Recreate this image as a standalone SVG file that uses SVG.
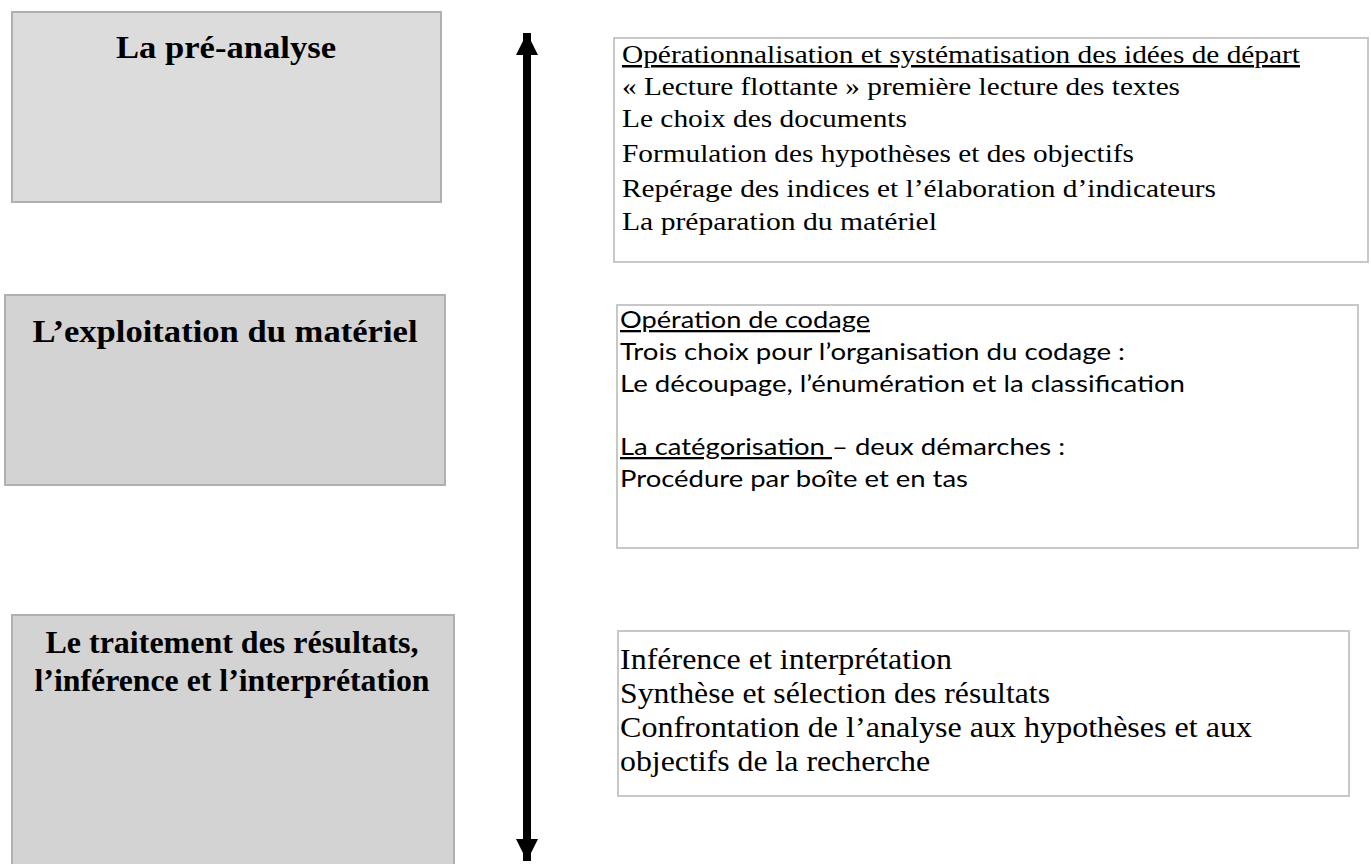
<svg xmlns="http://www.w3.org/2000/svg" width="1371" height="864" viewBox="0 0 1371 864">
<style>
.phase{stroke:#b0b0b0;stroke-width:2}
.desc{fill:#ffffff;stroke:#c8c8c8;stroke-width:2}
.ttl{font-family:"Liberation Serif","Times New Roman",serif;font-weight:bold;font-size:32px;fill:#000;text-anchor:middle}
.ser{font-family:"Liberation Serif","Times New Roman",serif;font-size:25px;fill:#000}
.ser3{font-family:"Liberation Serif","Times New Roman",serif;font-size:30px;fill:#000}
.sans{font-family:Lato,"Open Sans","Liberation Sans",sans-serif;font-size:23px;fill:#000}
.u{text-decoration:underline}
</style>
<defs>
<marker id="ah" viewBox="0 0 10 10" refX="10" refY="5" markerWidth="2.8" markerHeight="2.8" orient="auto-start-reverse">
<path d="M0,0 L10,5 L0,10 z" fill="#000"/>
</marker>
</defs>
<rect width="1371" height="864" fill="#ffffff"/>

<g id="phase1">
<rect class="phase" x="12" y="12" width="429" height="190" fill="#dcdcdc"/>
<text class="ttl" x="226" y="58" textLength="220" lengthAdjust="spacingAndGlyphs">La pré-analyse</text>
</g>
<g id="phase2">
<rect class="phase" x="5" y="295" width="440" height="190" fill="#d3d3d3"/>
<text class="ttl" x="225" y="342" textLength="385" lengthAdjust="spacingAndGlyphs">L’exploitation du matériel</text>
</g>
<g id="phase3">
<rect class="phase" x="12" y="615" width="442" height="260" fill="#d3d3d3"/>
<text class="ttl" x="232" y="653" textLength="373" lengthAdjust="spacingAndGlyphs">Le traitement des résultats,</text>
<text class="ttl" x="232" y="691" textLength="395" lengthAdjust="spacingAndGlyphs">l’inférence et l’interprétation</text>
</g>

<g id="desc1">
<rect class="desc" x="614" y="38" width="754" height="224"/>
<text class="ser u" x="622" y="63" textLength="678" lengthAdjust="spacingAndGlyphs">Opérationnalisation et systématisation des idées de départ</text>
<text class="ser" x="622" y="95" textLength="558" lengthAdjust="spacingAndGlyphs">« Lecture flottante » première lecture des textes</text>
<text class="ser" x="622" y="127" textLength="285" lengthAdjust="spacingAndGlyphs">Le choix des documents</text>
<text class="ser" x="622" y="162" textLength="512" lengthAdjust="spacingAndGlyphs">Formulation des hypothèses et des objectifs</text>
<text class="ser" x="622" y="197" textLength="594" lengthAdjust="spacingAndGlyphs">Repérage des indices et l’élaboration d’indicateurs</text>
<text class="ser" x="622" y="230" textLength="315" lengthAdjust="spacingAndGlyphs">La préparation du matériel</text>
</g>

<g id="desc2">
<rect class="desc" x="617" y="305" width="741" height="243"/>
<text class="sans u" x="620" y="328" textLength="250" lengthAdjust="spacingAndGlyphs">Opération de codage</text>
<text class="sans" x="620" y="360" textLength="505" lengthAdjust="spacingAndGlyphs">Trois choix pour l’organisation du codage :</text>
<text class="sans" x="620" y="392" textLength="565" lengthAdjust="spacingAndGlyphs">Le découpage, l’énumération et la classification</text>
<text class="sans" x="620" y="455" textLength="445" lengthAdjust="spacingAndGlyphs"><tspan class="u">La catégorisation </tspan>– deux démarches :</text>
<text class="sans" x="620" y="487" textLength="348" lengthAdjust="spacingAndGlyphs">Procédure par boîte et en tas</text>
</g>

<g id="desc3">
<rect class="desc" x="618" y="631" width="731" height="165"/>
<text class="ser3" x="620" y="669" textLength="332" lengthAdjust="spacingAndGlyphs">Inférence et interprétation</text>
<text class="ser3" x="620" y="703" textLength="430" lengthAdjust="spacingAndGlyphs">Synthèse et sélection des résultats</text>
<text class="ser3" x="620" y="737" textLength="632" lengthAdjust="spacingAndGlyphs">Confrontation de l’analyse aux hypothèses et aux</text>
<text class="ser3" x="620" y="771" textLength="310" lengthAdjust="spacingAndGlyphs">objectifs de la recherche</text>
</g>

<g id="connectors">
<line x1="527" y1="33" x2="527" y2="861" stroke="#000" stroke-width="8" marker-start="url(#ah)" marker-end="url(#ah)"/>
</g>
</svg>
